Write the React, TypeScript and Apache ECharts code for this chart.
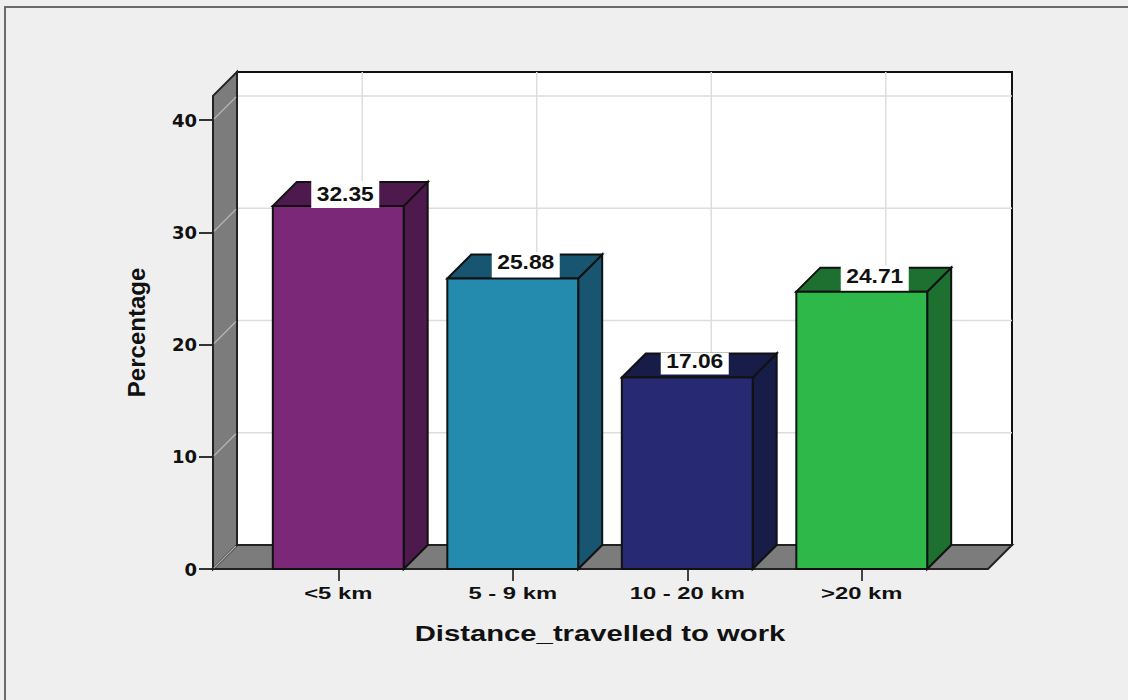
import React, { useEffect, useRef } from "react";
import * as echarts from "echarts";

const categories = ["<5 km", "5 - 9 km", "10 - 20 km", ">20 km"];
const percentages = [32.35, 25.88, 17.06, 24.71];
const yTicks = [0, 10, 20, 30, 40];
const xTitle = "Distance_travelled to work";
const frontColors = ["#7B2878", "#248BAF", "#272A72", "#2EB84A"];
const shadeColors = ["#4E1A4D", "#175570", "#171C49", "#1E7030"];
const labelShiftX = [7, 13, 7.5, 13];
const labelTextRise = [12, 16.5, 16.5, 15.5];
const labelBoxRise = [25, 26, 25, 26];
const labelBoxDrop = [2, -1, -3, -1];

const DEPTH = 24;
const GUTTER_LEFT = 38;
const GUTTER_RIGHT = 39;
const BG = "#EFEFEF";
const WALL = "#7C7C7C";
const ARIAL = "Liberation Sans";

function poly(points: number[][], fill: string, stroke = "#111", lineWidth = 2) {
  return { type: "polygon", shape: { points }, style: { fill, stroke, lineWidth } };
}
function line(x1: number, y1: number, x2: number, y2: number, stroke: string, lineWidth = 1.5) {
  return { type: "line", shape: { x1, y1, x2, y2 }, style: { stroke, lineWidth } };
}
function stretchedText(text: string, x: number, y: number, fontSize: number, scaleX: number) {
  return {
    type: "text",
    x,
    y,
    scaleX,
    z2: 20,
    style: {
      text,
      x: 0,
      y: 0,
      align: "center",
      verticalAlign: "middle",
      fontFamily: ARIAL,
      fontWeight: "bold",
      fontSize,
      fill: "#111",
    },
  };
}

function renderFrame(params: any, api: any) {
  const cs = params.coordSys;
  const left = cs.x - GUTTER_LEFT;
  const right = cs.x + cs.width + GUTTER_RIGHT;
  const top = cs.y;
  const bottom = cs.y + cs.height;
  const children: any[] = [];
  children.push(poly([[left + DEPTH, top - DEPTH], [right + DEPTH, top - DEPTH], [right + DEPTH, bottom - DEPTH], [left + DEPTH, bottom - DEPTH]], "#fff"));
  yTicks.forEach((t) => {
    const y = api.coord([0, t])[1];
    if (t > 0) children.push(line(left + DEPTH, y - DEPTH, right + DEPTH, y - DEPTH, "#DDDDDD"));
  });
  categories.forEach((_, i) => {
    const x = api.coord([i, 0])[0] + DEPTH;
    children.push(line(x, top - DEPTH, x, bottom - DEPTH, "#DDDDDD"));
  });
  children.push(poly([[left, bottom], [right, bottom], [right + DEPTH, bottom - DEPTH], [left + DEPTH, bottom - DEPTH]], WALL, "#222"));
  children.push(poly([[left, bottom], [left, top], [left + DEPTH, top - DEPTH], [left + DEPTH, bottom - DEPTH]], WALL, "#222"));
  yTicks.forEach((t) => {
    const y = api.coord([0, t])[1];
    children.push(line(left + 1, y - 1, left + DEPTH - 1, y - DEPTH + 1, "#B5B5B5", 1.2));
  });
  categories.forEach((c, i) => {
    children.push(stretchedText(c, api.coord([i, 0])[0], bottom + 24, 17, 1.4));
  });
  children.push(stretchedText(xTitle, cs.x + cs.width / 2, bottom + 64, 22, 1.33));
  return { type: "group", children };
}

function renderBar(params: any, api: any) {
  const i = params.dataIndex;
  const value = api.value(1);
  const [cx, yTop] = api.coord([api.value(0), value]);
  const yBase = api.coord([api.value(0), 0])[1];
  const halfW = api.size([1, 0])[0] * 0.375;
  const l = cx - halfW;
  const r = cx + halfW;
  const labelX = cx + labelShiftX[i];
  return {
    type: "group",
    children: [
      poly([[r, yTop], [r + DEPTH, yTop - DEPTH], [r + DEPTH, yBase - DEPTH], [r, yBase]], shadeColors[i]),
      poly([[l, yTop], [l + DEPTH, yTop - DEPTH], [r + DEPTH, yTop - DEPTH], [r, yTop]], shadeColors[i]),
      poly([[l, yTop], [r, yTop], [r, yBase], [l, yBase]], frontColors[i]),
      {
        type: "rect",
        z2: 10,
        shape: {
          x: labelX - 34,
          y: yTop - labelBoxRise[i],
          width: 68,
          height: labelBoxRise[i] + labelBoxDrop[i],
        },
        style: { fill: "#fff" },
      },
      stretchedText(value.toFixed(2), labelX, yTop - labelTextRise[i], 19.5, 1.17),
    ],
  };
}

export default function App() {
  const ref = useRef<HTMLDivElement>(null);
  useEffect(() => {
    const chart = echarts.init(ref.current!, null, { renderer: "svg" });
    chart.setOption({
      animation: false,
      backgroundColor: BG,
      grid: { left: 251, width: 698, top: 95.9, height: 473.1 },
      graphic: [
        {
          type: "rect",
          z: -10,
          shape: { x: 5, y: 7, width: 1140, height: 710 },
          style: { fill: BG, stroke: "#6A6A6A", lineWidth: 2 },
        },
      ],
      xAxis: {
        type: "category",
        data: categories,
        axisLine: { show: false },
        axisTick: { show: true, alignWithLabel: true, length: 12, lineStyle: { color: "#444", width: 2 } },
        axisLabel: { show: false },
      },
      yAxis: {
        type: "value",
        min: 0,
        max: 42.15,
        interval: 10,
        offset: GUTTER_LEFT,
        name: "Percentage",
        nameLocation: "middle",
        nameGap: 65,
        nameTextStyle: { fontFamily: ARIAL, fontWeight: "bold", fontSize: 24, color: "#111" },
        axisLine: { show: false },
        axisTick: { show: true, length: 14, customValues: yTicks, lineStyle: { color: "#333", width: 2 } },
        axisLabel: { margin: 16, customValues: yTicks, fontFamily: "DejaVu Sans", fontWeight: "bold", fontSize: 18, color: "#111" },
        splitLine: { show: false },
      },
      series: [
        { type: "custom", renderItem: renderFrame, data: [[0, 0]], z: 1, silent: true },
        {
          type: "custom",
          renderItem: renderBar,
          data: percentages.map((v, i) => [i, v]),
          encode: { x: 0, y: 1 },
          z: 2,
        },
      ],
    });
    return () => chart.dispose();
  }, []);
  return <div ref={ref} style={{ position: "absolute", left: 0, top: 0, width: 1128, height: 700 }} />;
}
